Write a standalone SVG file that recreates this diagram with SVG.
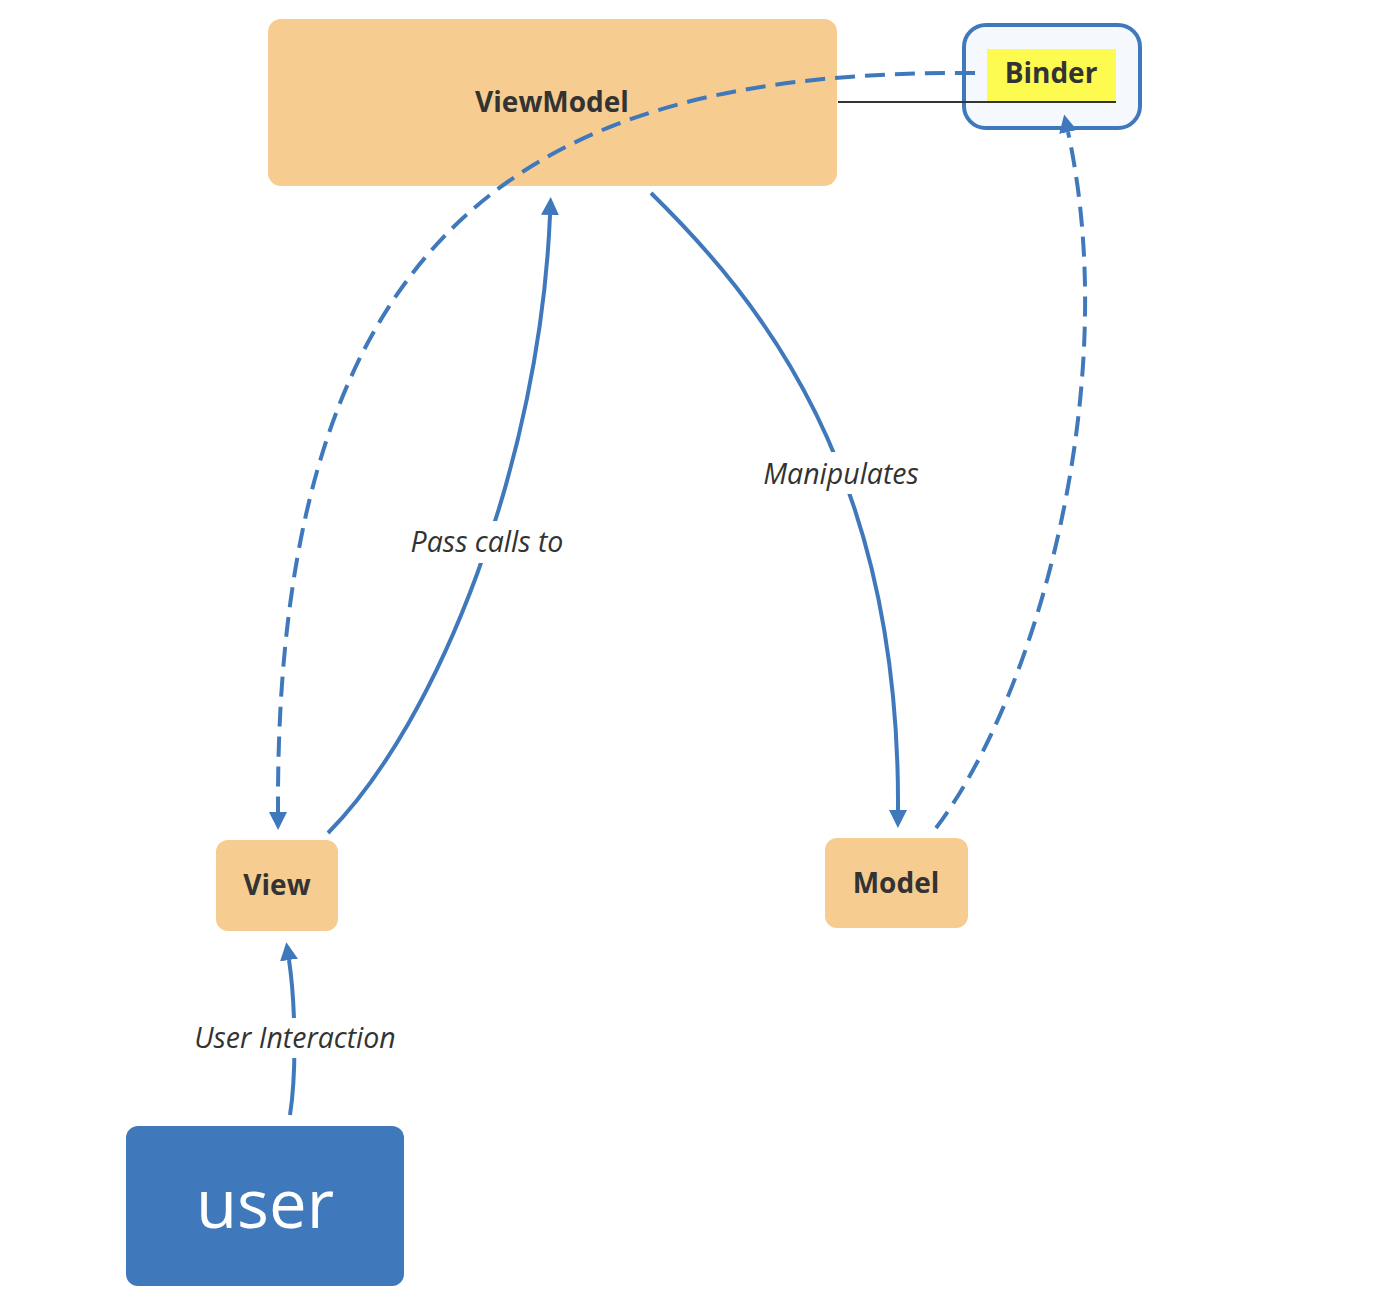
<svg xmlns="http://www.w3.org/2000/svg" width="1400" height="1302" viewBox="0 0 1400 1302">
<defs>
<style>
.node{fill:#f6cc91;}
.lbl{font-family:"Open Sans","Liberation Sans",sans-serif;font-weight:bold;font-size:28px;fill:#333333;text-anchor:middle;}
.elbl{font-family:"Open Sans","Liberation Sans",sans-serif;font-style:italic;font-size:28.5px;fill:#333333;text-anchor:middle;}
.edge{fill:none;stroke:#3f79bb;stroke-width:4;}
.dash{stroke-dasharray:20 10;}
.bg{fill:#ffffff;}
</style>
<marker id="arrow" viewBox="0 0 18 18" refX="0" refY="9" markerWidth="18" markerHeight="18" markerUnits="userSpaceOnUse" orient="auto">
<path d="M0,0 L18,9 L0,18 z" fill="#3f79bb"/>
</marker>
</defs>
<rect width="1400" height="1302" fill="#ffffff"/>

<g id="node-viewmodel">
<rect class="node" x="268" y="19" width="569" height="167" rx="13"/>
<text class="lbl" x="552" y="112">ViewModel</text>
</g>

<g id="node-binder">
<rect x="964" y="25" width="176" height="103" rx="22" fill="#f5f9fd" stroke="#3f79bb" stroke-width="4"/>
<rect x="987" y="49" width="129" height="53" fill="#fefb50"/>
<text class="lbl" x="1051" y="83">Binder</text>
</g>

<g id="node-view">
<rect class="node" x="216" y="840" width="122" height="91" rx="12"/>
<text class="lbl" x="277" y="895">View</text>
</g>

<g id="node-model">
<rect class="node" x="825" y="838" width="143" height="90" rx="12"/>
<text class="lbl" x="896" y="893">Model</text>
</g>

<g id="node-user">
<rect x="126" y="1126" width="278" height="160" rx="12" fill="#3f79bb"/>
<text x="265" y="1228" font-family="'Open Sans','Liberation Sans',sans-serif" font-size="67" fill="#ffffff" text-anchor="middle">user</text>
</g>

<g id="connectors">
<line x1="838" y1="102" x2="1116" y2="102" stroke="#333333" stroke-width="2"/>
<path class="edge" d="M290,1115 C297,1070 295,1000 289,960" marker-end="url(#arrow)"/>
<path class="edge" d="M328,833 C440,720 540,460 550,215" marker-end="url(#arrow)"/>
<path class="edge" d="M651,193 C760,300 900,470 898,810" marker-end="url(#arrow)"/>
<path class="edge dash" d="M975,73 C560,70 275,200 278,812" marker-end="url(#arrow)"/>
<path class="edge dash" d="M936,828 C1040,690 1122,380 1068,132" marker-end="url(#arrow)"/>
<rect class="bg" x="403" y="521" width="168" height="42"/>
<text class="elbl" x="487" y="552">Pass calls to</text>
<rect class="bg" x="756" y="452" width="170" height="42"/>
<text class="elbl" x="841" y="484">Manipulates</text>
<rect class="bg" x="188" y="1018" width="216" height="40"/>
<text class="elbl" x="295" y="1048">User Interaction</text>
</g>
</svg>
